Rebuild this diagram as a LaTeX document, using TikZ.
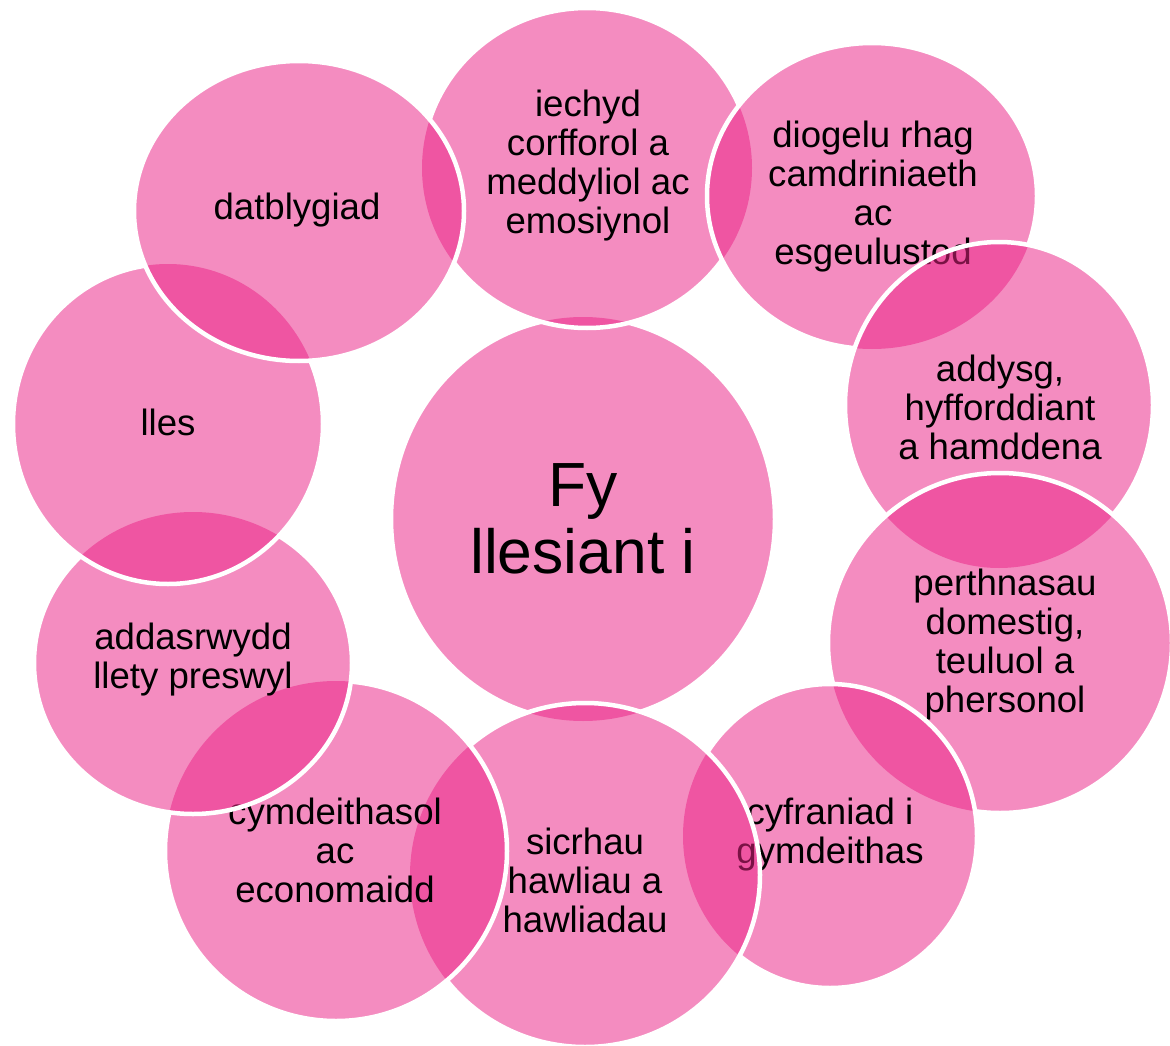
\documentclass[tikz,border=0pt]{standalone}
\usepackage{fontspec}
\setmainfont{Liberation Sans}
\definecolor{bubble}{RGB}{234,35,134}
\tikzset{
  bubblefill/.style={fill=bubble, fill opacity=0.52},
  bubbleline/.style={draw=white, line width=4.5pt},
  bubbletext/.style={align=center, inner sep=0pt, text=black,
    font=\fontsize{36.6}{39}\selectfont},
  hubtext/.style={align=center, inner sep=0pt, text=black,
    font=\fontsize{62.4}{67}\selectfont},
}
\def\wbOuter{(-20,-20) -- (-20,1070) -- (1190,1070) -- (1190,-20) -- cycle}
\def\wbHub{(583,519) ellipse [x radius=192, y radius=202]}
\def\wbIe{(587,168) ellipse [x radius=165, y radius=160]}
\def\wbDi{(872,196) ellipse [x radius=165, y radius=153]}
\def\wbAd{(999,405) ellipse [x radius=154, y radius=163]}
\def\wbPe{(1000,643) ellipse [x radius=172, y radius=170]}
\def\wbCy{(830,836) ellipse [x radius=147, y radius=152]}
\def\wbSi{(585,875) ellipse [x radius=175, y radius=172]}
\def\wbCm{(336,851) ellipse [x radius=171, y radius=170]}
\def\wbAa{(193,663) ellipse [x radius=159, y radius=151]}
\def\wbLl{(168,424) ellipse [x radius=155, y radius=160]}
\def\wbDa{(299,211) ellipse [x radius=165, y radius=150]}
\begin{document}
\begin{tikzpicture}[x=1pt,y=-1pt]
\useasboundingbox (0,0) rectangle (1170,1046);
% hub
\path[bubblefill] \wbHub;
\begin{scope}
  \clip \wbOuter \wbIe;
  \clip \wbOuter \wbSi;
  \draw[bubbleline] \wbHub;
\end{scope}
\node[hubtext] (hub) at (583,519) {Fy\\llesiant i};
% iechyd
\path[bubblefill] \wbIe;
\begin{scope}
  \clip \wbOuter \wbDi;
  \clip \wbOuter \wbDa;
  \draw[bubbleline] \wbIe;
\end{scope}
\node[bubbletext] (iechyd) at (588,166) {iechyd\\corfforol a\\meddyliol ac\\emosiynol};
% diogelu
\path[bubblefill] \wbDi;
\begin{scope}
  \clip \wbOuter \wbAd;
  \draw[bubbleline] \wbDi;
\end{scope}
\node[bubbletext] (diogelu) at (873,197) {diogelu rhag\\camdriniaeth\\ac\\esgeulustod};
% addysg
\path[bubblefill] \wbAd;
\begin{scope}
  \clip \wbOuter \wbPe;
  \draw[bubbleline] \wbAd;
\end{scope}
\node[bubbletext] (addysg) at (1000,407) {addysg,\\hyfforddiant\\a hamddena};
% perthnasau
\path[bubblefill] \wbPe;
\begin{scope}
  \clip \wbOuter \wbCy;
  \draw[bubbleline] \wbPe;
\end{scope}
\node[bubbletext] (perthnasau) at (1005,645) {perthnasau\\domestig,\\teuluol a\\phersonol};
% cyfraniad
\path[bubblefill] \wbCy;
\begin{scope}
  \clip \wbOuter \wbSi;
  \draw[bubbleline] \wbCy;
\end{scope}
\node[bubbletext] (cyfraniad) at (830,835) {cyfraniad i\\gymdeithas};
% sicrhau
\path[bubblefill] \wbSi;
\begin{scope}
  \clip \wbOuter \wbCm;
  \draw[bubbleline] \wbSi;
\end{scope}
\node[bubbletext] (sicrhau) at (585,880) {sicrhau\\hawliau a\\hawliadau};
% cymdeithasol
\path[bubblefill] \wbCm;
\begin{scope}
  \clip \wbOuter \wbAa;
  \draw[bubbleline] \wbCm;
\end{scope}
\node[bubbletext] (cymdeithasol) at (335,850) {cymdeithasol\\ac\\economaidd};
% addasrwydd
\path[bubblefill] \wbAa;
\begin{scope}
  \clip \wbOuter \wbLl;
  \draw[bubbleline] \wbAa;
\end{scope}
\node[bubbletext] (addasrwydd) at (193,660) {addasrwydd\\llety preswyl};
% lles
\path[bubblefill] \wbLl;
\begin{scope}
  \clip \wbOuter \wbDa;
  \draw[bubbleline] \wbLl;
\end{scope}
\node[bubbletext] (lles) at (168,422) {lles};
% datblygiad
\path[bubblefill] \wbDa;
\draw[bubbleline] \wbDa;
\node[bubbletext] (datblygiad) at (297,210) {datblygiad};
\end{tikzpicture}
\end{document}
